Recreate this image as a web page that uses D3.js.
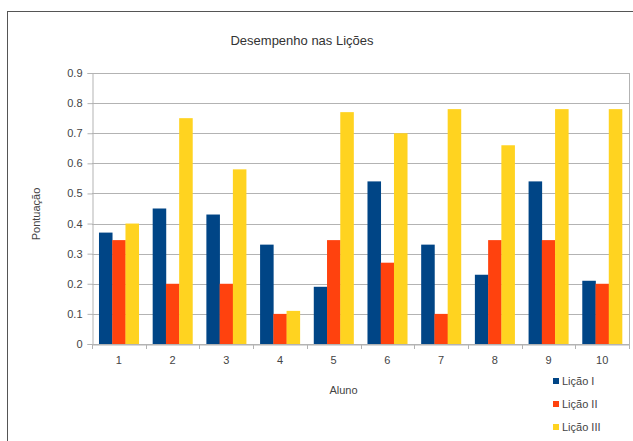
<!DOCTYPE html>
<html><head><meta charset="utf-8">
<script src="https://cdn.jsdelivr.net/npm/d3@7"></script>
<style>body{margin:0;background:#fff}svg{display:block}</style>
</head><body>
<svg id="c" width="633" height="441"></svg>
<script>
const alunos = ["1","2","3","4","5","6","7","8","9","10"];
const seriesNames = ["Lição I","Lição II","Lição III"];
const licao1 = [0.37,0.45,0.43,0.33,0.19,0.54,0.33,0.23,0.54,0.21];
const licao2 = [0.345,0.20,0.20,0.10,0.345,0.27,0.10,0.345,0.345,0.20];
const licao3 = [0.40,0.75,0.58,0.11,0.77,0.70,0.78,0.66,0.78,0.78];
const yTicks = [0,0.1,0.2,0.3,0.4,0.5,0.6,0.7,0.8,0.9];
const yTickLabels = ["0","0.1","0.2","0.3","0.4","0.5","0.6","0.7","0.8","0.9"];
const colors = ["#004586","#ff420e","#ffd320"];

const seriesVals = [licao1,licao2,licao3];
const svg = d3.select("#c");
const font = "'Liberation Sans', Arial, sans-serif";
const L=92, R=629, T=73, B=344;

// outer frame
svg.append("rect").attr("x",7.5).attr("y",11.5).attr("width",640).attr("height",440)
  .attr("fill","none").attr("stroke","#555").attr("stroke-width",1);

const x = d3.scaleBand().domain(alunos).range([L,R]).paddingInner(0.26).paddingOuter(0.13);
const xg = d3.scaleBand().domain(alunos).range([L,R]);
const xs = d3.scaleBand().domain([0,1,2]).range([0,x.bandwidth()]);
const y = d3.scaleLinear().domain([0,0.9]).range([B,T]);

// gridlines
svg.append("g").selectAll("line").data(yTicks).join("line")
  .attr("x1",L).attr("x2",R).attr("y1",d=>Math.round(y(d))+0.5).attr("y2",d=>Math.round(y(d))+0.5)
  .attr("stroke","#b3b3b3").attr("stroke-width",1);
svg.append("line").attr("x1",R+0.5).attr("x2",R+0.5).attr("y1",T).attr("y2",B).attr("stroke","#b3b3b3");

// bars
const groups = svg.append("g").selectAll("g").data(alunos).join("g")
  .attr("transform",d=>`translate(${x(d)},0)`);
groups.selectAll("rect").data((d,i)=>seriesVals.map((s,k)=>({k,v:s[i]}))).join("rect")
  .attr("x",d=>xs(d.k)).attr("width",xs.bandwidth()+0.3)
  .attr("y",d=>y(d.v)).attr("height",d=>B-y(d.v))
  .attr("fill",d=>colors[d.k]);

// y axis
const yAxis = d3.axisLeft(y).tickValues(yTicks).tickFormat((d,i)=>yTickLabels[i]).tickSize(5).tickPadding(5);
const ya = svg.append("g").attr("transform",`translate(${L+0.5},0)`).call(yAxis);
ya.select(".domain").attr("stroke","#b3b3b3");
ya.selectAll(".tick line").attr("stroke","#b3b3b3");
ya.selectAll("text").attr("fill","#444").style("font-family",font).style("font-size","11px");

// x axis
const xAxis = d3.axisBottom(x).tickSize(0).tickPadding(12);
const xa = svg.append("g").attr("transform",`translate(0,${B+0.5})`).call(xAxis);
xa.select(".domain").attr("stroke","#b3b3b3");
xa.selectAll("text").attr("fill","#444").style("font-family",font).style("font-size","11px");
svg.append("g").selectAll("line").data(alunos.concat(["end"])).join("line")
  .attr("x1",(d,i)=>Math.round(i<alunos.length?xg(d):R)+0.5)
  .attr("x2",(d,i)=>Math.round(i<alunos.length?xg(d):R)+0.5)
  .attr("y1",B).attr("y2",B+5).attr("stroke","#b3b3b3");

// title
svg.append("text").attr("x",302).attr("y",45).attr("text-anchor","middle")
  .style("font-family",font).style("font-size","13px").attr("fill","#333")
  .text("Desempenho nas Lições");
// axis titles
svg.append("text").attr("x",(L+R)/2-17).attr("y",394).attr("text-anchor","middle")
  .style("font-family",font).style("font-size","11px").attr("fill","#444").text("Aluno");
svg.append("text").attr("transform","translate(40,214) rotate(-90)").attr("text-anchor","middle")
  .style("font-family",font).style("font-size","11px").attr("fill","#444").text("Pontuação");

// legend
const lg = svg.append("g").selectAll("g").data(seriesNames).join("g")
  .attr("transform",(d,i)=>`translate(553,${385+i*23})`);
lg.append("rect").attr("x",0).attr("y",-7).attr("width",6).attr("height",6).attr("fill",(d,i)=>colors[i]);
lg.append("text").attr("x",9).attr("y",0).style("font-family",font).style("font-size","11px")
  .attr("fill","#444").text(d=>d);
</script>
</body></html>
